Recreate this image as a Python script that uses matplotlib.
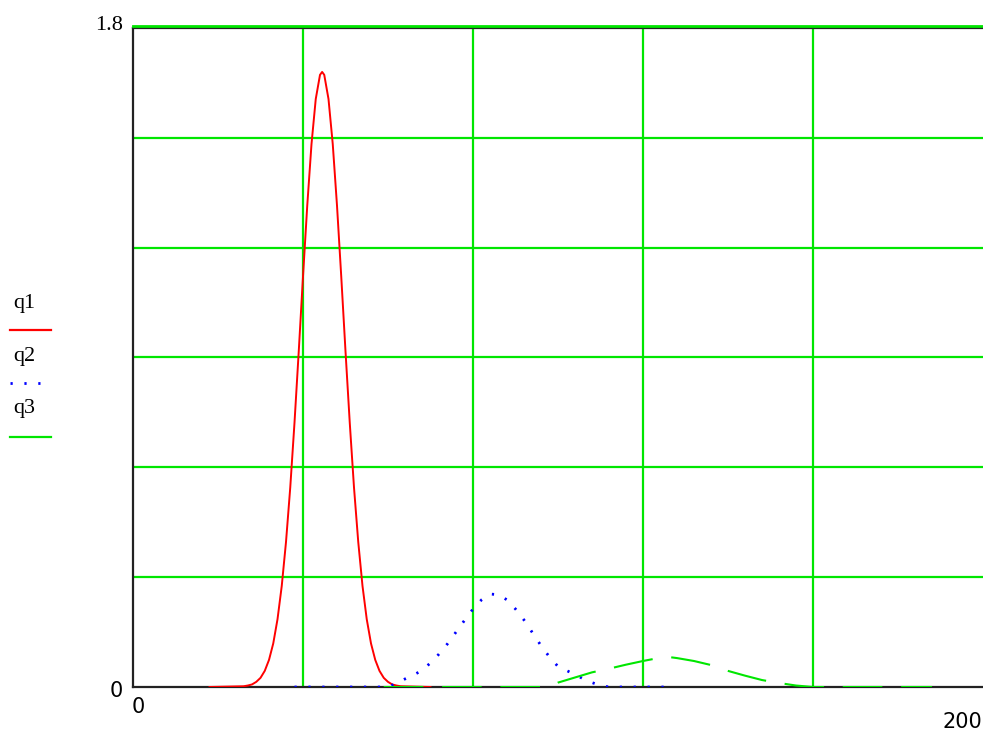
import matplotlib
matplotlib.use("Agg")
import matplotlib.pyplot as plt
from matplotlib.lines import Line2D
from matplotlib.transforms import offset_copy

# q1: narrow red pulse
q1_x = [18] + list(range(26, 45)) + [44.5] + list(range(45, 64)) + [70]
q1 = [0,
      0.002, 0.004, 0.007, 0.014, 0.025, 0.044, 0.074, 0.119, 0.185, 0.276,
      0.396, 0.545, 0.722, 0.917, 1.121, 1.315, 1.483, 1.606, 1.672, 1.68, 1.672,
      1.606, 1.483, 1.315, 1.121, 0.917, 0.722, 0.545, 0.396, 0.276, 0.185,
      0.119, 0.074, 0.044, 0.025, 0.014, 0.007, 0.004, 0.002,
      0]

# q2: blue dotted
q2_x = [38, 60, 62, 64, 66, 68, 70, 72, 74, 76, 78, 80, 82, 84, 86, 88, 90,
        92, 94, 96, 98, 100, 102, 104, 106, 108, 110, 112, 126]
q2 = [0, 0, 0.01, 0.022, 0.033, 0.045, 0.066, 0.09, 0.118, 0.15, 0.182, 0.213,
      0.238, 0.254, 0.252, 0.238, 0.213, 0.183, 0.148, 0.113, 0.082, 0.056,
      0.045, 0.034, 0.022, 0.012, 0.004, 0, 0]

# q3: green dashed
q3_x = [59, 98, 100, 104, 108, 112, 116, 120, 124, 126, 128, 132, 136, 140,
        144, 148, 152, 156, 160, 188]
q3 = [0, 0, 0.012, 0.026, 0.04, 0.05, 0.061, 0.071, 0.08, 0.082, 0.079, 0.071,
      0.06, 0.044, 0.031, 0.019, 0.011, 0.004, 0, 0]

x_grid = [40, 80, 120, 160]
y_grid = [0.3, 0.6, 0.9, 1.2, 1.5]
y_top = 1.8

GREEN = "#00e600"
W, H = 983, 734

fig = plt.figure(figsize=(W / 100, H / 100), dpi=100)
ax = fig.add_axes([133 / W, 1 - 687 / H, 1 - 133 / W, (687 - 28) / H])
ax.set_xlim(0, 200)
ax.set_ylim(0, y_top)

for gx in x_grid:
    ax.axvline(gx, color=GREEN, lw=1.6, zorder=1)
for gy in y_grid:
    ax.axhline(gy, color=GREEN, lw=1.6, zorder=1)
# green line sitting just above the black top border
ax.plot([0, 1], [y_top, y_top], color=GREEN, lw=2.0, clip_on=False, zorder=6,
        transform=offset_copy(ax.get_yaxis_transform(), fig=fig, y=1.5, units="points"))

ax.plot(q1_x, q1, color="red", lw=1.4, zorder=3)
ax.plot(q2_x, q2, color="#0000ff", lw=2.0, linestyle=(0, (0.8, 4.2)), zorder=4)
ax.plot(q3_x, q3, color=GREEN, lw=1.5, linestyle=(0, (19, 9)), zorder=5)

ax.spines["right"].set_visible(False)
for s in ["left", "bottom", "top"]:
    ax.spines[s].set_linewidth(1.6)
    ax.spines[s].set_color("#222222")
    ax.spines[s].set_zorder(2)
ax.set_xticks([])
ax.set_yticks([])

# axis limit labels
serif = "Liberation Serif"
sans = "DejaVu Sans"
fig.text(123 / W, 1 - 26 / H, "1.8", ha="right", va="center", fontsize=16, family=serif)
fig.text(123 / W, 1 - 691 / H, "0", ha="right", va="center", fontsize=15, family=sans)
fig.text(138 / W, 1 - 707 / H, "0", ha="center", va="center", fontsize=15, family=sans)
fig.text(982 / W, 1 - 722 / H, "200", ha="right", va="center", fontsize=15, family=sans)

# legend at the left
labels = ["q1", "q2", "q3"]
label_y = [303, 356, 409]
line_y = [330, 383, 437]
styles = [dict(color="red", lw=1.6),
          dict(color="#0000ff", lw=2.0, linestyle=(0, (0.8, 4.2))),
          dict(color=GREEN, lw=1.6)]
for lab, ly, sy, st in zip(labels, label_y, line_y, styles):
    fig.text(13 / W, 1 - ly / H, lab, ha="left", va="center", fontsize=16, family=serif)
    fig.add_artist(Line2D([10 / W, 51 / W], [1 - sy / H, 1 - sy / H],
                          transform=fig.transFigure, **st))

fig.savefig("out.png", dpi=100)
